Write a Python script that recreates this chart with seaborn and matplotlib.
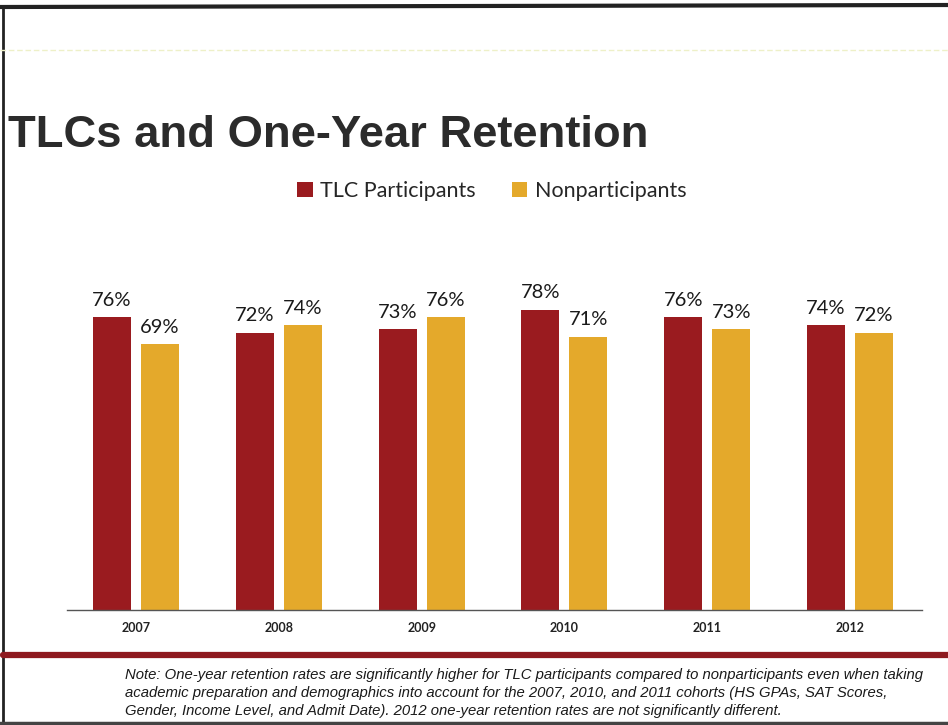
import matplotlib
matplotlib.use("Agg")
import matplotlib.pyplot as plt
from matplotlib.patches import Patch
from matplotlib.lines import Line2D
import seaborn as sns
import pandas as pd

years = ["2007", "2008", "2009", "2010", "2011", "2012"]
tlc = [76, 72, 73, 78, 76, 74]
nonpart = [69, 74, 76, 71, 73, 72]
series_names = ["TLC Participants", "Nonparticipants"]
colors = ["#9A1B1F", "#E4A92B"]
title = "TLCs and One-Year Retention"
note = ("Note: One-year retention rates are significantly higher for TLC participants compared to nonparticipants even when taking\n"
        "academic preparation and demographics into account for the 2007, 2010, and 2011 cohorts (HS GPAs, SAT Scores,\n"
        "Gender, Income Level, and Admit Date). 2012 one-year retention rates are not significantly different.")

df = pd.DataFrame({
    "Year": years * 2,
    "Series": [series_names[0]] * len(years) + [series_names[1]] * len(years),
    "Rate": tlc + nonpart,
})

sns.set_theme(style="white")
plt.rcParams["font.family"] = ["Lato", "DejaVu Sans"]

W, H = 948, 725
fig = plt.figure(figsize=(W / 100, H / 100), dpi=100)
fig.patch.set_facecolor("white")

ax = fig.add_axes([67 / W, 1 - 610 / H, (922 - 67) / W, (610 - 263.5) / H])
sns.barplot(data=df, x="Year", y="Rate", hue="Series", palette=colors,
            width=0.672, gap=0.21, saturation=1, ax=ax, legend=False,
            edgecolor="none")
ax.set_ylim(0, 90)
ax.set_xlim(-0.483, 5.504)
for s in ["top", "right", "left"]:
    ax.spines[s].set_visible(False)
ax.spines["bottom"].set_color("#555555")
ax.spines["bottom"].set_linewidth(1.0)
ax.set_yticks([])
ax.set_xlabel("")
ax.set_ylabel("")
ax.tick_params(axis="x", length=0, pad=9)
for lab in ax.get_xticklabels():
    lab.set_fontsize(9)
    lab.set_fontweight("bold")
    lab.set_color("#222222")

for cont in ax.containers:
    ax.bar_label(cont, labels=[f"{int(v)}%" for v in cont.datavalues],
                 padding=6, fontsize=14.5, color="#1a1a1a")

# legend
handles = [Patch(facecolor=c, edgecolor="none") for c in colors]
fig.legend(handles, series_names, loc="center", bbox_to_anchor=(492 / W, 1 - 191 / H),
           ncol=2, frameon=False, fontsize=15.5, handlelength=0.7, handleheight=0.7,
           handletextpad=0.35, columnspacing=1.7)

# title
fig.text(8 / W, 1 - 147 / H, title, fontsize=32.7, fontweight="bold",
         family=["Liberation Sans", "DejaVu Sans"], color="#2b2b2b",
         ha="left", va="baseline")

# note
fig.text(125 / W, 1 - 693 / H, note, fontsize=10.75, style="italic",
         family=["Liberation Sans", "DejaVu Sans"],
         color="#1a1a1a", ha="left", va="center", linespacing=1.38)

# decorative slide lines
fig.add_artist(Line2D([0, 1], [1 - 7 / H, 1 - 5 / H], transform=fig.transFigure,
                      color="#222222", lw=3))
fig.add_artist(Line2D([3 / W, 3 / W], [0, 1 - 6 / H], transform=fig.transFigure,
                      color="#222222", lw=2))
fig.add_artist(Line2D([0, 1], [1 - 50 / H, 1 - 50 / H], transform=fig.transFigure,
                      color="#EEF0C8", lw=1, ls=(0, (4, 2))))
fig.add_artist(Line2D([3 / W, 1], [1 - 655 / H, 1 - 655 / H], transform=fig.transFigure,
                      color="#8E1A1F", lw=4.5))
fig.add_artist(Line2D([0, 1], [1 - 722.5 / H, 1 - 722.5 / H], transform=fig.transFigure,
                      color="#444444", lw=2.5))

fig.savefig("out.png", dpi=100, facecolor="white")
